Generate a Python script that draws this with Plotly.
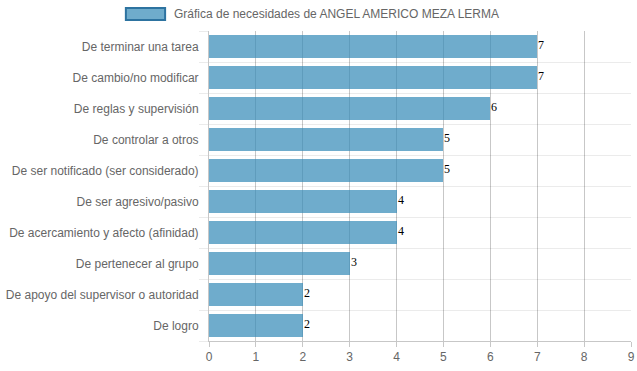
import plotly.graph_objects as go

categories = [
    "De terminar una tarea",
    "De cambio/no modificar",
    "De reglas y supervisión",
    "De controlar a otros",
    "De ser notificado (ser considerado)",
    "De ser agresivo/pasivo",
    "De acercamiento y afecto (afinidad)",
    "De pertenecer al grupo",
    "De apoyo del supervisor o autoridad",
    "De logro",
]
values = [7, 7, 6, 5, 5, 4, 4, 3, 2, 2]
x_ticks = list(range(0, 10))
legend_label = "Gráfica de necesidades de ANGEL AMERICO MEZA LERMA"

positions = list(range(len(categories)))

fig = go.Figure()
fig.add_trace(go.Bar(
    x=values,
    y=positions,
    orientation="h",
    width=0.72,
    marker=dict(color="rgba(55,140,185,0.72)", line=dict(width=0)),
    showlegend=False,
    hoverinfo="skip",
))

# value labels right at the bar ends
for v, p in zip(values, positions):
    fig.add_annotation(x=v, y=p, xref="x", yref="y", text=str(v),
                       showarrow=False, xanchor="left", yanchor="middle",
                       xshift=-1, yshift=2,
                       font=dict(family="Liberation Serif, Times New Roman, serif",
                                 size=12, color="#000"))

grid_col = "rgba(0,0,0,0.22)"
fig.update_layout(
    width=637, height=371,
    margin=dict(l=209, r=6, t=31, b=30, autoexpand=False),
    paper_bgcolor="white", plot_bgcolor="white",
    font=dict(family="Liberation Sans, Arial, sans-serif", size=12, color="#666"),
    bargap=0,
    xaxis=dict(
        range=[0, 9], tickvals=x_ticks, ticktext=[str(t) for t in x_ticks],
        showgrid=True, gridcolor=grid_col, gridwidth=1,
        zeroline=False, showline=True, linecolor=grid_col, linewidth=1,
        ticks="outside", ticklen=5, tickcolor=grid_col,
        tickfont=dict(size=12, color="#666"),
        automargin=False, fixedrange=True,
    ),
    yaxis=dict(
        range=[len(categories) - 0.5, -0.5],
        tickvals=positions, ticktext=categories,
        showgrid=False, zeroline=False,
        showline=True, linecolor=grid_col, linewidth=1,
        ticks="outside", ticklen=7, tickcolor="rgba(0,0,0,0)",
        tickfont=dict(size=12, color="#666"),
        minor=dict(tick0=0.5, dtick=1, showgrid=True, gridcolor="#ebebeb",
                   gridwidth=1, ticks="outside", ticklen=9, tickcolor="#ebebeb"),
        automargin=False, fixedrange=True,
    ),
)

# legend drawn as box + label (Chart.js style)
fig.add_shape(type="rect", xref="paper", yref="paper",
              x0=-0.197, x1=-0.104, y0=1.0355, y1=1.074,
              fillcolor="rgba(55,140,185,0.72)",
              line=dict(color="rgba(45,115,160,1)", width=2))
fig.add_annotation(xref="paper", yref="paper", x=-0.088, y=1.0548,
                   xanchor="left", yanchor="middle", showarrow=False,
                   text=legend_label,
                   font=dict(family="Liberation Sans, Arial, sans-serif", size=12, color="#666"))

fig.write_html("out.html", config={"displayModeBar": False},
               post_script="document.body.style.margin='0';document.body.style.overflow='hidden';")
